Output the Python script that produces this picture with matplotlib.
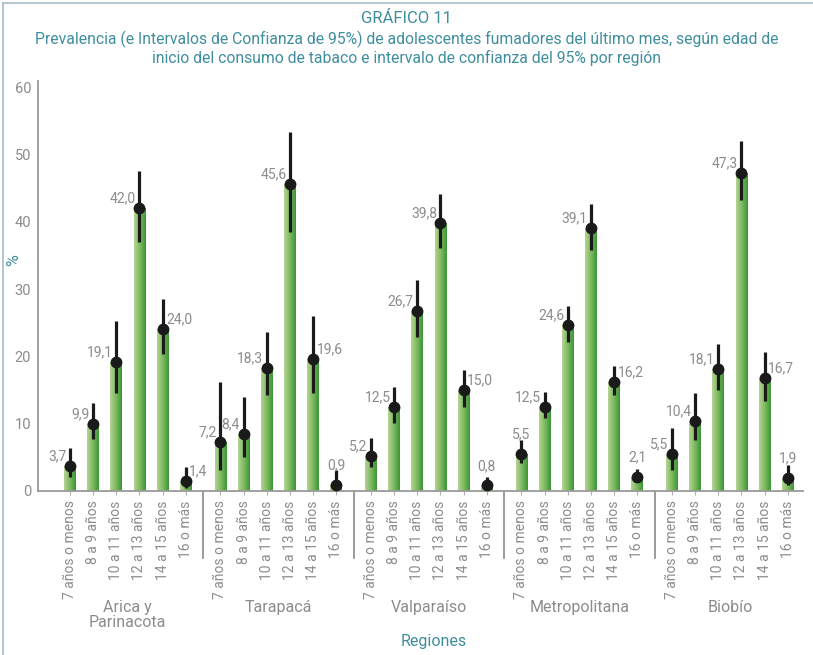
import numpy as np
import matplotlib
matplotlib.use("Agg")
from matplotlib import pyplot as plt
from matplotlib.lines import Line2D

regiones = ["Arica y\nParinacota", "Tarapacá", "Valparaíso", "Metropolitana", "Biobío"]
edades = ["7 años o menos", "8 a 9 años", "10 a 11 años", "12 a 13 años", "14 a 15 años", "16 o más"]

prevalencia = [
    [3.7, 9.9, 19.1, 42.0, 24.0, 1.4],
    [7.2, 8.4, 18.3, 45.6, 19.6, 0.9],
    [5.2, 12.5, 26.7, 39.8, 15.0, 0.8],
    [5.5, 12.5, 24.6, 39.1, 16.2, 2.1],
    [5.5, 10.4, 18.1, 47.3, 16.7, 1.9],
]
ic_inf = [
    [2.1, 7.7, 14.5, 37.0, 20.4, 0.4],
    [3.1, 5.0, 14.3, 38.5, 14.5, 0.0],
    [3.6, 10.1, 22.9, 36.1, 12.4, 0.0],
    [4.1, 10.8, 22.1, 35.8, 14.2, 1.3],
    [3.1, 7.5, 15.0, 43.2, 13.4, 0.9],
]
ic_sup = [
    [6.3, 13.0, 25.3, 47.5, 28.5, 3.5],
    [16.2, 14.0, 23.6, 53.4, 26.0, 3.1],
    [7.8, 15.5, 31.4, 44.2, 18.0, 2.1],
    [7.5, 14.7, 27.5, 42.6, 18.5, 3.3],
    [9.3, 14.5, 21.9, 52.0, 20.7, 3.8],
]
# where each value label sits: l = left, r = right, a = above
pos_etiqueta = [
    ["l", "l", "l", "l", "r", "r"],
    ["l", "l", "l", "l", "r", "a"],
    ["l", "l", "l", "l", "r", "a"],
    ["a", "l", "l", "l", "r", "a"],
    ["l", "l", "l", "l", "r", "a"],
]

plt.rcParams["font.family"] = ["Roboto", "DejaVu Sans"]
gris = "#8c8c8c"
teal = "#3f8e9e"

fig = plt.figure(figsize=(8.13, 6.55), dpi=100)
ax = fig.add_axes([0.0467, 0.2508, 0.941, 0.626])

paso = 6.5
x = []
for g in range(len(regiones)):
    for i in range(len(edades)):
        x.append(g * paso + i)
x = np.array(x)
y = np.array(prevalencia).ravel()
lo = np.array(ic_inf).ravel()
hi = np.array(ic_sup).ravel()
pos = np.array(pos_etiqueta).ravel()

ax.set_xlim(-1.38, x[-1] + 0.66)
ax.set_ylim(0, 61)

barras = ax.bar(x, y, width=0.5, color="#6aad55", zorder=2)
grad = np.linspace(0, 1, 64).reshape(1, -1)
cmap = matplotlib.colors.LinearSegmentedColormap.from_list("v", ["#b4d394", "#7dba5e", "#3a9637"])
for b in barras:
    x0 = b.get_x()
    w = b.get_width()
    h = b.get_height()
    im = ax.imshow(grad, extent=[x0, x0 + w, 0, h], aspect="auto", cmap=cmap, zorder=2.1)
    im.set_clip_path(b)

ax.vlines(x, lo, hi, color="#1a1a1a", linewidth=2.3, zorder=3)
ax.plot(x, y, "o", color="#1a1a1a", markersize=7.5, zorder=4)

for xi, yi, p in zip(x, y, pos):
    txt = "{:.1f}".format(yi).replace(".", ",")
    if p == "l":
        ax.annotate(txt, (xi, yi), xytext=(-2.5, 7), textcoords="offset points",
                    ha="right", va="center", fontsize=10, color=gris, zorder=5)
    elif p == "r":
        ax.annotate(txt, (xi, yi), xytext=(2.5, 7), textcoords="offset points",
                    ha="left", va="center", fontsize=10, color=gris, zorder=5)
    else:
        ax.annotate(txt, (xi, yi), xytext=(0, 14), textcoords="offset points",
                    ha="center", va="center", fontsize=10, color=gris, zorder=5)

ax.set_xticks(x)
ax.set_xticklabels(edades * len(regiones), rotation=90, fontsize=10, color=gris)
ax.set_yticks(range(0, 61, 10))
ax.tick_params(axis="y", length=0, labelsize=10.5, labelcolor=gris, pad=5)
ax.tick_params(axis="x", length=3, color="#b0b0b0", pad=4)

for s in ["top", "right"]:
    ax.spines[s].set_visible(False)
ax.spines["left"].set_color("#9a9a9a")
ax.spines["bottom"].set_color("#9a9a9a")
ax.spines["left"].set_linewidth(1.3)
ax.spines["bottom"].set_linewidth(1.3)

# group separators under the axis
for g in range(1, len(regiones)):
    xs = g * paso - 0.75
    ax.add_line(Line2D([xs, xs], [0, -10.0], color="#8a8a8a", linewidth=1.2,
                       transform=ax.transData, clip_on=False))

for g, r in enumerate(regiones):
    xc = g * paso + 2.5
    ax.text(xc, -16.3, r, ha="center", va="top", fontsize=11.5, color=gris,
            linespacing=1.0, transform=ax.transData, clip_on=False)

fig.text(14 / 813, 1 - 260 / 655, "%", rotation=90, ha="center", va="center", fontsize=11.5, color=teal)
fig.text(0.534, 0.021, "Regiones", ha="center", va="center", fontsize=11.5, color=teal)

fig.text(0.5, 0.972, "GRÁFICO 11", ha="center", va="center", fontsize=12, color=teal)
fig.text(0.5, 0.926, "Prevalencia (e Intervalos de Confianza de 95%) de adolescentes fumadores del último mes, según edad de\n"
         "inicio del consumo de tabaco e intervalo de confianza del 95% por región",
         ha="center", va="center", fontsize=11.3, color=teal, linespacing=1.1)

# outer frame (top and left)
fig.add_artist(Line2D([0.004, 1.0], [0.996, 0.996], color="#a9bcc8", linewidth=1.2, transform=fig.transFigure))
fig.add_artist(Line2D([0.004, 0.004], [0.0, 0.996], color="#a9bcc8", linewidth=1.2, transform=fig.transFigure))

fig.savefig("out.png", dpi=100)
